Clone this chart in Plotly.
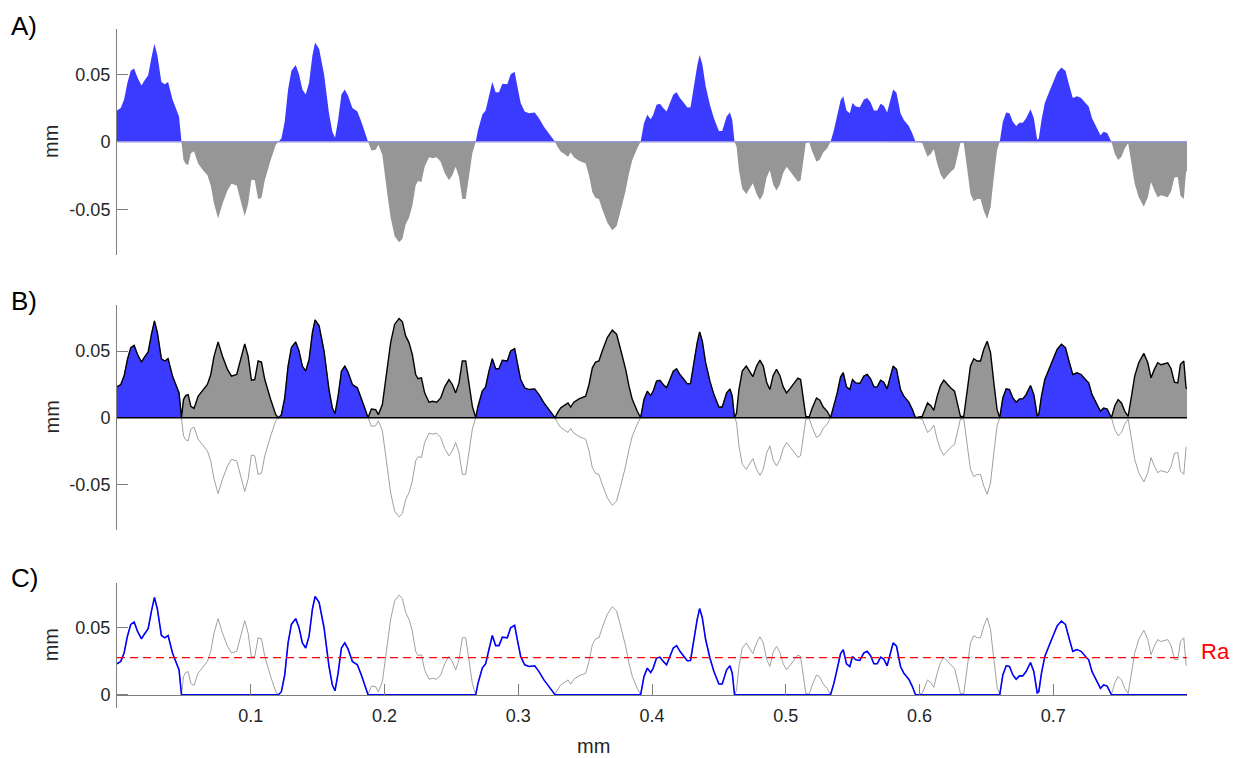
import numpy as np
import plotly.graph_objects as go

# ---- data (mm) ----
x_mm = [0.0000, 0.0028, 0.0053, 0.0078, 0.0103, 0.0128, 0.0153, 0.0183, 0.0203, 0.0233,
        0.0258, 0.0280, 0.0302, 0.0332, 0.0357, 0.0382, 0.0415, 0.0452, 0.0464, 0.0482,
        0.0497, 0.0514, 0.0532, 0.0552, 0.0576, 0.0606, 0.0646, 0.0676, 0.0701, 0.0726,
        0.0756, 0.0788, 0.0826, 0.0856, 0.0895, 0.0925, 0.0955, 0.0980, 0.1005, 0.1030,
        0.1055, 0.1080, 0.1105, 0.1149, 0.1187, 0.1207, 0.1229, 0.1254, 0.1279, 0.1304,
        0.1336, 0.1361, 0.1386, 0.1411, 0.1436, 0.1461, 0.1481, 0.1511, 0.1548, 0.1585,
        0.1610, 0.1630, 0.1653, 0.1678, 0.1703, 0.1727, 0.1760, 0.1797, 0.1827, 0.1852,
        0.1877, 0.1902, 0.1934, 0.1954, 0.1984, 0.2021, 0.2046, 0.2076, 0.2109, 0.2134,
        0.2158, 0.2183, 0.2208, 0.2233, 0.2251, 0.2276, 0.2300, 0.2333, 0.2358, 0.2390,
        0.2420, 0.2450, 0.2482, 0.2507, 0.2532, 0.2557, 0.2582, 0.2607, 0.2632, 0.2657,
        0.2682, 0.2699, 0.2731, 0.2756, 0.2781, 0.2806, 0.2831, 0.2856, 0.2881, 0.2918,
        0.2943, 0.2973, 0.2993, 0.3018, 0.3048, 0.3080, 0.3123, 0.3155, 0.3192, 0.3230,
        0.3275, 0.3292, 0.3317, 0.3342, 0.3372, 0.3392, 0.3416, 0.3454, 0.3486, 0.3504,
        0.3529, 0.3554, 0.3578, 0.3603, 0.3628, 0.3666, 0.3703, 0.3735, 0.3765, 0.3803,
        0.3828, 0.3853, 0.3890, 0.3915, 0.3940, 0.3965, 0.3990, 0.4009, 0.4034, 0.4059,
        0.4084, 0.4109, 0.4134, 0.4159, 0.4184, 0.4209, 0.4239, 0.4264, 0.4288, 0.4313,
        0.4338, 0.4356, 0.4376, 0.4401, 0.4433, 0.4463, 0.4500, 0.4525, 0.4558, 0.4583,
        0.4600, 0.4617, 0.4632, 0.4650, 0.4675, 0.4705, 0.4729, 0.4754, 0.4782, 0.4807,
        0.4832, 0.4857, 0.4881, 0.4906, 0.4931, 0.4956, 0.4981, 0.5006, 0.5036, 0.5066,
        0.5091, 0.5111, 0.5131, 0.5150, 0.5175, 0.5198, 0.5230, 0.5255, 0.5280, 0.5310,
        0.5335, 0.5360, 0.5385, 0.5410, 0.5430, 0.5454, 0.5479, 0.5499, 0.5524, 0.5554,
        0.5584, 0.5609, 0.5634, 0.5659, 0.5684, 0.5709, 0.5733, 0.5758, 0.5783, 0.5803,
        0.5828, 0.5858, 0.5883, 0.5920, 0.5945, 0.5970, 0.5995, 0.6020, 0.6040, 0.6060,
        0.6085, 0.6107, 0.6132, 0.6157, 0.6182, 0.6207, 0.6232, 0.6262, 0.6281, 0.6306,
        0.6331, 0.6356, 0.6381, 0.6406, 0.6431, 0.6456, 0.6481, 0.6506, 0.6531, 0.6556,
        0.6580, 0.6600, 0.6623, 0.6648, 0.6673, 0.6698, 0.6723, 0.6747, 0.6772, 0.6797,
        0.6830, 0.6855, 0.6880, 0.6892, 0.6912, 0.6937, 0.6967, 0.6997, 0.7029, 0.7061,
        0.7091, 0.7121, 0.7146, 0.7178, 0.7208, 0.7241, 0.7265, 0.7290, 0.7320, 0.7353,
        0.7377, 0.7403, 0.7435, 0.7460, 0.7485, 0.7510, 0.7535, 0.7560, 0.7585, 0.7609,
        0.7639, 0.7677, 0.7707, 0.7731, 0.7756, 0.7781, 0.7806, 0.7831, 0.7856, 0.7881,
        0.7906, 0.7931, 0.7951, 0.7976, 0.7993, 0.8000]

profile_mm = [0.0231, 0.0249, 0.0312, 0.0437, 0.0525, 0.0543, 0.0475, 0.0417, 0.0450, 0.0493,
              0.0626, 0.0726, 0.0638, 0.0442, 0.0425, 0.0442, 0.0312, 0.0211, 0.0186, 0.0,
              -0.0136, -0.0166, -0.0173, -0.0085, -0.0070, -0.0161, -0.0216, -0.0249, -0.0324, -0.0462,
              -0.0568, -0.0462, -0.0362, -0.0312, -0.0324, -0.0437, -0.0553, -0.0462, -0.0281, -0.0286,
              -0.0425, -0.0417, -0.0286, -0.0136, -0.0023, 0.0, 0.0023, 0.0148, 0.0387, 0.0525,
              0.0568, 0.0500, 0.0387, 0.0349, 0.0437, 0.0638, 0.0734, 0.0689, 0.0500, 0.0211,
              0.0073, 0.0030, 0.0161, 0.0349, 0.0387, 0.0342, 0.0249, 0.0224, 0.0148, 0.0073,
              0.0, -0.0065, -0.0060, -0.0023, -0.0098, -0.0387, -0.0563, -0.0701, -0.0744, -0.0719,
              -0.0613, -0.0563, -0.0475, -0.0324, -0.0292, -0.0299, -0.0186, -0.0116, -0.0123, -0.0116,
              -0.0148, -0.0231, -0.0286, -0.0249, -0.0186, -0.0261, -0.0425, -0.0425, -0.0236, -0.0085,
              0.0, 0.0085, 0.0199, 0.0231, 0.0349, 0.0442, 0.0367, 0.0367, 0.0430, 0.0425,
              0.0500, 0.0518, 0.0412, 0.0286, 0.0224, 0.0211, 0.0216, 0.0173, 0.0111, 0.0060,
              0.0, -0.0035, -0.0073, -0.0090, -0.0111, -0.0080, -0.0116, -0.0141, -0.0156, -0.0161,
              -0.0249, -0.0374, -0.0417, -0.0425, -0.0500, -0.0601, -0.0656, -0.0626, -0.0513, -0.0362,
              -0.0236, -0.0136, -0.0048, 0.0, 0.0136, 0.0199, 0.0166, 0.0199, 0.0274, 0.0281,
              0.0249, 0.0224, 0.0286, 0.0349, 0.0367, 0.0324, 0.0286, 0.0254, 0.0256, 0.0412,
              0.0563, 0.0643, 0.0575, 0.0412, 0.0274, 0.0173, 0.0080, 0.0080, 0.0186, 0.0216,
              0.0161, 0.0, -0.0035, -0.0211, -0.0349, -0.0387, -0.0349, -0.0307, -0.0387, -0.0432,
              -0.0387, -0.0266, -0.0211, -0.0317, -0.0362, -0.0317, -0.0231, -0.0186, -0.0224, -0.0266,
              -0.0297, -0.0286, -0.0136, -0.0010, -0.0005, -0.0073, -0.0148, -0.0131, -0.0080, -0.0048,
              0.0, 0.0085, 0.0186, 0.0307, 0.0337, 0.0231, 0.0211, 0.0286, 0.0261, 0.0256,
              0.0312, 0.0324, 0.0292, 0.0231, 0.0231, 0.0281, 0.0266, 0.0216, 0.0312, 0.0387,
              0.0362, 0.0211, 0.0161, 0.0116, 0.0065, 0.0, -0.0005, -0.0010, -0.0060, -0.0111,
              -0.0090, -0.0055, -0.0161, -0.0241, -0.0281, -0.0249, -0.0224, -0.0199, -0.0111, -0.0010,
              -0.0010, -0.0186, -0.0387, -0.0442, -0.0425, -0.0425, -0.0513, -0.0573, -0.0488, -0.0261,
              -0.0060, 0.0, 0.0148, 0.0216, 0.0211, 0.0148, 0.0116, 0.0141, 0.0141, 0.0173,
              0.0241, 0.0173, 0.0015, 0.0023, 0.0161, 0.0286, 0.0362, 0.0437, 0.0513, 0.0550,
              0.0525, 0.0412, 0.0324, 0.0337, 0.0324, 0.0286, 0.0261, 0.0173, 0.0111, 0.0048,
              0.0073, 0.0065, 0.0, -0.0090, -0.0136, -0.0111, -0.0048, -0.0010, -0.0161, -0.0312,
              -0.0412, -0.0482, -0.0412, -0.0299, -0.0362, -0.0412, -0.0397, -0.0407, -0.0412, -0.0367,
              -0.0266, -0.0261, -0.0400, -0.0425, -0.0224, -0.0216]

ra_value = 0.0277
x_ticks = [0.0, 0.1, 0.2, 0.3, 0.4, 0.5, 0.6, 0.7, 0.8]
x_ticklabels = ["", "0.1", "0.2", "0.3", "0.4", "0.5", "0.6", "0.7", ""]
panel_labels = ["A)", "B)", "C)"]

# ---- derived ----
x = np.array(x_mm)
p = np.array(profile_mm)
pos = np.maximum(p, 0)
neg = np.minimum(p, 0)
absp = np.abs(p)
negabs = np.maximum(-p, 0)

BLUE = "#3b3bff"
GRAY = "#969696"
AXC = "#7f7f7f"
TXT = "#262626"
FONT = "Liberation Sans, Arial, sans-serif"
TICK_SIZE = 18

W, H = 1241, 758
ML, MR = 117, 54
PW = W - ML - MR


def pdom(top_px, bot_px):
    return [1 - bot_px / H, 1 - top_px / H]


def px_to_paper_x(px):
    return (px - ML) / PW


fig = go.Figure()

# Panel A
fig.add_trace(go.Scatter(x=x, y=pos, mode="lines", fill="tozeroy", fillcolor=BLUE,
                         line=dict(width=0, color=BLUE), xaxis="x", yaxis="y", hoverinfo="skip"))
fig.add_trace(go.Scatter(x=x, y=neg, mode="lines", fill="tozeroy", fillcolor=GRAY,
                         line=dict(width=0, color=GRAY), xaxis="x", yaxis="y", hoverinfo="skip"))

# Panel B
fig.add_trace(go.Scatter(x=x, y=p, mode="lines", line=dict(width=1, color="#a0a0a0"),
                         xaxis="x2", yaxis="y2", hoverinfo="skip"))
fig.add_trace(go.Scatter(x=x, y=pos, mode="lines", fill="tozeroy", fillcolor=BLUE,
                         line=dict(width=0, color=BLUE), xaxis="x2", yaxis="y2", hoverinfo="skip"))
fig.add_trace(go.Scatter(x=x, y=negabs, mode="lines", fill="tozeroy", fillcolor=GRAY,
                         line=dict(width=0, color=GRAY), xaxis="x2", yaxis="y2", hoverinfo="skip"))
fig.add_trace(go.Scatter(x=x, y=absp, mode="lines", line=dict(width=1.4, color="black"),
                         xaxis="x2", yaxis="y2", hoverinfo="skip"))

# Panel C
fig.add_trace(go.Scatter(x=x, y=absp, mode="lines", line=dict(width=1, color="#a0a0a0"),
                         xaxis="x3", yaxis="y3", hoverinfo="skip"))
fig.add_trace(go.Scatter(x=x, y=pos, mode="lines", line=dict(width=1.6, color="#0000ff"),
                         xaxis="x3", yaxis="y3", hoverinfo="skip"))

shapes = [
    dict(type="line", xref="x domain", yref="y", x0=0, x1=1, y0=0, y1=0,
         line=dict(color="#9494e0", width=1.5), layer="above"),
    dict(type="line", xref="x2 domain", yref="y2", x0=0, x1=1, y0=0, y1=0,
         line=dict(color="black", width=1.4), layer="above"),
    dict(type="line", xref="x3 domain", yref="y3", x0=0, x1=1, y0=ra_value, y1=ra_value,
         line=dict(color="#ff0000", width=1.2, dash="8px,5px"), layer="above"),
]

yaxis_common = dict(showgrid=False, zeroline=False, showline=True, linecolor=AXC, linewidth=1,
                    ticks="inside", ticklen=11, tickcolor=AXC, tickwidth=1,
                    tickfont=dict(size=TICK_SIZE, color=TXT, family=FONT), ticklabelstandoff=2)

xhidden = dict(range=[0, 0.8], visible=False, domain=[0, 1])

fig.update_layout(
    width=W, height=H,
    margin=dict(l=ML, r=MR, t=0, b=0),
    paper_bgcolor="white", plot_bgcolor="white",
    showlegend=False,
    font=dict(family=FONT, color=TXT),
    xaxis=dict(**xhidden, anchor="y"),
    xaxis2=dict(**xhidden, anchor="y2"),
    xaxis3=dict(range=[0, 0.8], domain=[0, 1], anchor="free", position=1 - 694.7 / H,
                showgrid=False, zeroline=False, showline=True, linecolor=AXC, linewidth=1,
                ticks="inside", ticklen=11, tickcolor=AXC, tickwidth=1,
                tickvals=x_ticks, ticktext=x_ticklabels,
                tickfont=dict(size=TICK_SIZE, color=TXT, family=FONT), ticklabelstandoff=5),
    yaxis=dict(**yaxis_common, domain=pdom(29.3, 255), range=[-0.08393, 0.08326],
               tickvals=[-0.05, 0, 0.05], ticktext=["-0.05", "0", "0.05"], anchor="x"),
    yaxis2=dict(**yaxis_common, domain=pdom(305, 530), range=[-0.08418, 0.08448],
                tickvals=[-0.05, 0, 0.05], ticktext=["-0.05", "0", "0.05"], anchor="x2"),
    yaxis3=dict(**yaxis_common, domain=pdom(582.7, 708), range=[-0.00985, 0.0836],
                tickvals=[0, 0.05], ticktext=["0", "0.05"], anchor="x3"),
    shapes=shapes,
)

ann = []
for lab, ypx in zip(panel_labels, [26, 301, 578]):
    ann.append(dict(text=lab, xref="paper", yref="paper", x=px_to_paper_x(9), y=1 - ypx / H,
                    xanchor="left", yanchor="middle", showarrow=False,
                    font=dict(size=26, color="black", family=FONT)))
for ycen in [142, 417.5, 645.3]:
    ann.append(dict(text="mm", xref="paper", yref="paper", x=px_to_paper_x(51), y=1 - ycen / H,
                    xanchor="center", yanchor="middle", textangle=-90, showarrow=False,
                    font=dict(size=20, color=TXT, family=FONT)))
ann.append(dict(text="mm", xref="paper", yref="paper", x=px_to_paper_x(593), y=1 - 746 / H,
                xanchor="center", yanchor="middle", showarrow=False,
                font=dict(size=20, color=TXT, family=FONT)))
ann.append(dict(text="Ra", xref="paper", yref="paper", x=px_to_paper_x(1199), y=1 - 651.5 / H,
                xanchor="left", yanchor="middle", showarrow=False,
                font=dict(size=22, color="#ff0000", family=FONT)))
fig.update_layout(annotations=ann)

fig.write_html("out.html")
